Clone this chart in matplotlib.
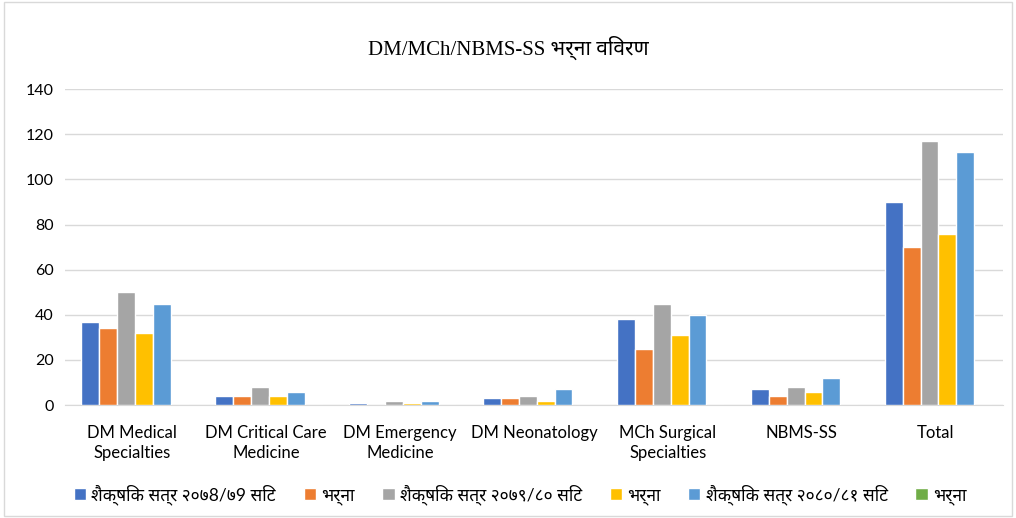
import numpy as np
import matplotlib
matplotlib.use("Agg")
import matplotlib.pyplot as plt
from matplotlib import font_manager
from matplotlib.patches import Rectangle

categories = ["DM Medical\nSpecialties", "DM Critical Care\nMedicine", "DM Emergency\nMedicine",
              "DM Neonatology", "MCh Surgical\nSpecialties", "NBMS-SS", "Total"]
series_names = ["शैक्षिक सत्र २०७8/७9 सिट", "भर्ना", "शैक्षिक सत्र २०७९/८० सिट",
                "भर्ना", "शैक्षिक सत्र २०८०/८१ सिट", "भर्ना"]
seats_7879 = [37, 4, 1, 3, 38, 7, 90]
admit_7879 = [34, 4, 0, 3, 25, 4, 70]
seats_7980 = [50, 8, 2, 4, 45, 8, 117]
admit_7980 = [32, 4, 1, 2, 31, 6, 76]
seats_8081 = [45, 6, 2, 7, 40, 12, 112]
admit_8081 = [0, 0, 0, 0, 0, 0, 0]
colors = ["#4472C4", "#ED7D31", "#A5A5A5", "#FFC000", "#5B9BD5", "#70AD47"]

# pick an installed Devanagari family
installed = {f.name for f in font_manager.fontManager.ttflist}
prefer = ["Noto Sans Devanagari", "Mukta", "Hind", "Ek Mukta", "Poppins", "Annapurna SIL", "FreeSans"]
deva = [n for n in prefer if n in installed][:1]

sans = ["Lato"] + deva + ["DejaVu Sans"]
serif = ["Liberation Serif"] + deva + ["DejaVu Sans"]
plt.rcParams["font.family"] = sans

fig = plt.figure(figsize=(10.16, 5.18), dpi=100)
fig.patches.append(Rectangle((0.004, 0.004), 0.992, 0.992, transform=fig.transFigure,
                             fill=False, edgecolor="#D9D9D9", linewidth=1))
ax = fig.add_axes([0.064, 0.218, 0.923, 0.61])

values = [seats_7879, admit_7879, seats_7980, admit_7980, seats_8081, admit_8081]
x = np.arange(len(categories))
w = 0.134
for i, (vals, c, name) in enumerate(zip(values, colors, series_names)):
    ax.bar(x + (i - 2.5) * w + 0.02, vals, width=w, color=c, edgecolor="white",
           linewidth=1, label=name, zorder=3)

ax.set_ylim(0, 140)
ax.set_xlim(-0.5, len(categories) - 0.5)
ax.set_yticks(range(0, 141, 20))
ax.yaxis.grid(True, color="#D9D9D9", linewidth=1, zorder=0)
for s in ["top", "right", "left"]:
    ax.spines[s].set_visible(False)
ax.spines["bottom"].set_color("#D9D9D9")
ax.tick_params(axis="both", length=0, labelsize=11.5, colors="#000000", pad=8)
ax.set_xticks(x)
ax.set_xticklabels(categories, fontsize=12, linespacing=1.35)
ax.tick_params(axis="x", pad=14)

fig.text(0.5, 0.907, "DM/MCh/NBMS-SS भर्ना विवरण", ha="center", va="center",
         fontsize=15, family=serif)

fig.legend(loc="lower center", bbox_to_anchor=(0.512, -0.005), ncol=6, frameon=False,
           fontsize=12.5, handlelength=0.7, handleheight=0.7, handletextpad=0.3,
           columnspacing=1.6)

fig.savefig("out.png", dpi=100)
